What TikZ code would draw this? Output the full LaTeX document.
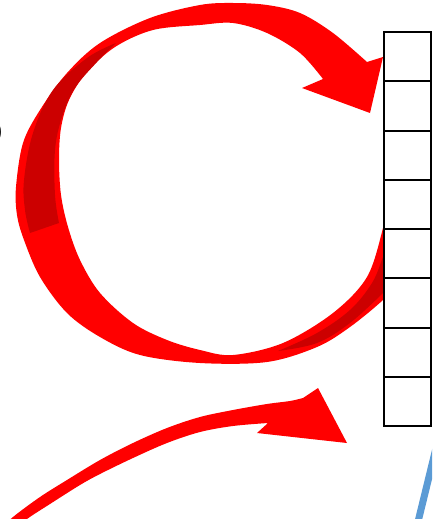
\documentclass[tikz,border=0pt]{standalone}
\usepackage{fontspec}
\setmainfont{Liberation Sans}
\definecolor{arrowred}{HTML}{FF0000}
\definecolor{shadered}{HTML}{CC0000}
\definecolor{lineblue}{HTML}{5B9BD5}
\begin{document}
\begin{tikzpicture}[x=1pt,y=-1pt,
  cell/.style={draw=black, line width=2pt, fill=white, minimum width=47.5pt, minimum height=49.25pt, inner sep=0pt, outer sep=0pt},
  redfill/.style={fill=arrowred},
  shadefill/.style={fill=shadered},
  blueline/.style={draw=lineblue, line width=7pt}]
\useasboundingbox (0,0) rectangle (432,519);
\clip (0,0) rectangle (432,519);
\fill[white] (0,0) rectangle (432,519);
% big circular arrow
\fill[redfill] plot[smooth, tension=0.55] coordinates {(367,62) (333,33) (300,13) (267,5) (233,3) (200,5) (150,18) (100,43) (67,73) (40,110) (23,143) (16,187) (17,215) (24,240) (40,277) (67,313) (100,337) (140,355) (200,363) (267,362) (317,347) (350,327) (383,300) (395,285)}
 -- (395,200)
 -- plot[smooth, tension=0.55] coordinates {(388,200) (383,228) (367,277) (333,313) (283,343) (233,355) (200,350) (167,340) (133,323) (100,293) (80,260) (68,227) (61,195) (59,160) (61,128) (69,100) (86,73) (115,47) (153,30) (200,25) (233,23) (267,33) (300,53) (323,79)}
 -- (302,88) -- (370,113) -- (383,57) -- cycle;
\fill[shadefill] plot[smooth, tension=0.6] coordinates {(116,43) (87,58) (53,90) (33,133) (24,180) (25,210) (30,233)}
 -- plot[smooth, tension=0.6] coordinates {(59,223) (55,195) (55,150) (62,117) (75,88) (97,62) (116,43)} -- cycle;
\fill[shadefill] plot[smooth, tension=0.6] coordinates {(278,351) (317,333) (350,310) (372,283) (383,257) (392,235)}
 -- (392,292)
 -- plot[smooth, tension=0.6] coordinates {(383,293) (350,323) (317,343) (278,351)} -- cycle;
% column of cells
\foreach \i in {1,...,8}
  \node[cell] (c\i) at (407.25, {32+49.25*(\i-0.5)}) {};
% lower arrow
\fill[redfill] plot[smooth, tension=0.55] coordinates {(0,530) (13,517) (40,497) (67,480) (100,460) (133,443) (167,428) (200,417) (233,410) (267,404) (290,401) (303,398)}
 -- (318,388) -- (347,443) -- (257,433)
 -- plot[smooth, tension=0.55] coordinates {(268,423) (233,426) (200,432) (167,443) (133,458) (100,474) (80,485) (50,504) (27,519) (15,530)} -- cycle;
% blue line
\coordinate (bl1) at (438,440);
\coordinate (bl2) at (416,530);
\draw[blueline] (bl1) -- (bl2);
% clipped text fragment
\node[anchor=base east, inner sep=0pt, font=\fontsize{64}{64}\selectfont] (frag) at (4.6,146) {5};
\end{tikzpicture}
\end{document}
